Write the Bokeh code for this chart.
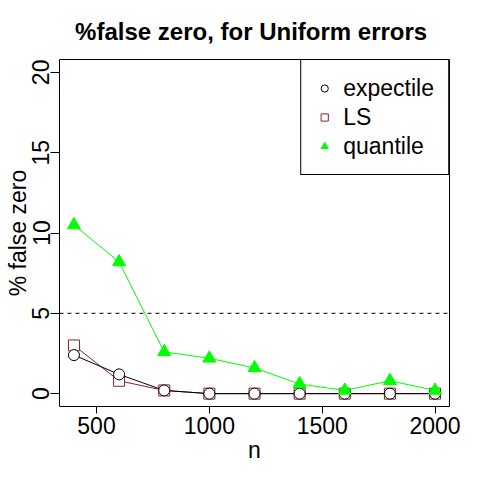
from bokeh.plotting import figure
from bokeh.models import Range1d, Span, Legend, LegendItem, FixedTicker
from bokeh.embed import file_html
from bokeh.resources import INLINE

# ---- data ----
n = [400, 600, 800, 1000, 1200, 1400, 1600, 1800, 2000]
expectile = [2.4, 1.2, 0.2, 0, 0, 0, 0, 0, 0]
ls_vals = [3.0, 0.8, 0.2, 0, 0, 0, 0, 0, 0]
quantile = [10.5, 8.2, 2.6, 2.2, 1.6, 0.6, 0.2, 0.8, 0.2]
x_ticks = [500, 1000, 1500, 2000]
y_ticks = [0, 5, 10, 15, 20]
ref_level = 5

title_text = "%false zero,  for Uniform errors"
y_label_text = "% false zero"
FONT = "Liberation Sans"
LS_COLOR = "#8B2323"
Q_COLOR = "#00FF00"

p = figure(width=480, height=480, output_backend="svg", toolbar_location=None,
           x_range=Range1d(336, 2064), y_range=Range1d(-0.8, 20.8),
           min_border_left=59, min_border_right=31, min_border_top=59,
           min_border_bottom=74)

p.title.text = title_text
p.title.align = "center"
p.title.text_font = FONT
p.title.text_font_size = "24px"
p.title.text_font_style = "bold"
p.title.text_color = "black"
p.title.standoff = 30

p.xgrid.visible = False
p.ygrid.visible = False
p.outline_line_color = "black"
p.outline_line_width = 1
p.outline_line_alpha = 1
p.background_fill_color = "white"
p.border_fill_color = "white"

p.xaxis.ticker = FixedTicker(ticks=x_ticks)
p.yaxis.ticker = FixedTicker(ticks=y_ticks)
p.xaxis.axis_label = "n"
p.yaxis.axis_label = y_label_text
for ax in (p.xaxis[0], p.yaxis[0]):
    ax.axis_line_color = None
    ax.major_tick_line_color = "black"
    ax.minor_tick_line_color = None
    ax.major_tick_in = 0
    ax.major_label_text_font = FONT
    ax.major_label_text_font_size = "23px"
    ax.major_label_text_color = "black"
    ax.axis_label_text_font = FONT
    ax.axis_label_text_font_size = "23px"
    ax.axis_label_text_font_style = "normal"
    ax.axis_label_text_color = "black"
p.xaxis.major_tick_out = 7
p.yaxis.major_tick_out = 9
p.xaxis.major_label_standoff = 3
p.xaxis.axis_label_standoff = 0
p.yaxis.major_label_standoff = 1
p.yaxis.axis_label_standoff = -1
p.yaxis.major_label_orientation = "vertical"

p.add_layout(Span(location=ref_level, dimension="width", line_color="black",
                  line_width=1, line_dash="4 4"))

p.line(n, ls_vals, line_color=LS_COLOR, line_width=1)
r_ls = p.scatter(n, ls_vals, marker="square", size=11, line_color=LS_COLOR,
                 fill_color="white", line_width=1)
p.line(n, expectile, line_color="black", line_width=1)
r_ex = p.scatter(n, expectile, marker="circle", size=11, line_color="black",
                 fill_color="white", line_width=1)
p.line(n, quantile, line_color=Q_COLOR, line_width=1)
r_q = p.scatter(n, quantile, marker="triangle", size=13, line_color=Q_COLOR,
                fill_color=Q_COLOR, line_width=1)

legend = Legend(items=[LegendItem(label="expectile", renderers=[r_ex]),
                       LegendItem(label="LS", renderers=[r_ls]),
                       LegendItem(label="quantile", renderers=[r_q])],
                location="top_right", margin=0, padding=14, spacing=1,
                glyph_width=18, glyph_height=28, label_height=28,
                label_standoff=10, label_text_font=FONT,
                label_text_font_size="23px", label_text_color="black",
                border_line_color="black", border_line_width=1,
                border_line_alpha=1, background_fill_color="white",
                background_fill_alpha=1)
p.add_layout(legend)

open("out.html", "w").write(file_html(p, INLINE))
